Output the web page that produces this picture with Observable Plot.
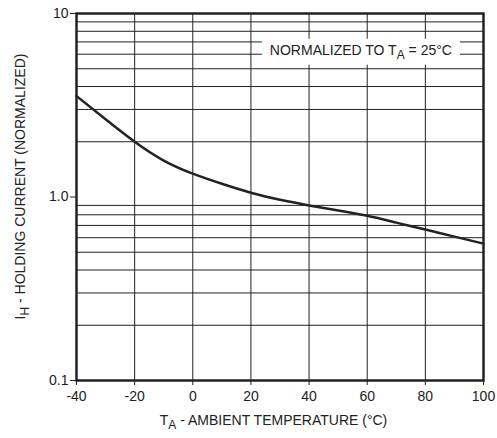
<!DOCTYPE html>
<html><head>
<meta charset="utf-8">
<script src="https://cdn.jsdelivr.net/npm/d3@7"></script>
<script src="https://cdn.jsdelivr.net/npm/@observablehq/plot@0.6"></script>
<style>
body{margin:0;background:#fff}
#chart svg{font-family:"Liberation Sans",Arial,sans-serif;}
</style>
</head><body><div id="chart"></div>
<script>
const temps = [-40,-30,-20,-10,0,10,20,30,40,50,60,70,80,90,100];
const current = [3.55,2.65,2.0,1.58,1.34,1.18,1.055,0.965,0.90,0.845,0.79,0.725,0.665,0.608,0.557];
const xTicks = [-40,-20,0,20,40,60,80,100];
const xTickLabels = ["-40","-20","0","20","40","60","80","100"];
const xGrid = [-20,0,20,40,60,80];
const yTicks = [0.1,1,10];
const yTickLabels = ["0.1","1.0","10"];
const yGrid = [0.2,0.3,0.4,0.5,0.6,0.7,0.8,0.9,2,3,4,5,6,7,8,9];
const note = {x: 58, y: 6.3, parts: ["NORMALIZED TO T", "A", " = 25°C"]};
const xLabelParts = ["T", "A", " - AMBIENT TEMPERATURE (°C)"];
const yLabelParts = ["I", "H", " - HOLDING CURRENT (NORMALIZED)"];

const data = temps.map((t,i)=>({t, v: current[i]}));

const plot = Plot.plot({
  width: 497, height: 438,
  marginLeft: 76, marginRight: 14, marginTop: 13, marginBottom: 58,
  style: {fontSize: "14px", fontFamily: "Liberation Sans, Arial, sans-serif", color: "#222", background: "#fff"},
  x: {domain: [-40,100], label: null},
  y: {type: "log", domain: [0.1,10], label: null},
  marks: [
    Plot.ruleY(yGrid, {stroke: "#222", strokeWidth: 1}),
    Plot.ruleX(xGrid, {stroke: "#222", strokeWidth: 1}),
    Plot.line(data, {x: "t", y: "v", stroke: "#222", strokeWidth: 2.5, curve: "natural"}),
    Plot.frame({stroke: "#222", strokeWidth: 2.5}),
    Plot.axisX({ticks: xTicks, tickFormat: d => xTickLabels[xTicks.indexOf(d)], tickSize: 5, tickPadding: 6, label: null, fill: "#222"}),
    Plot.axisY({ticks: yTicks, tickFormat: d => yTickLabels[yTicks.indexOf(d)], tickSize: 6, tickPadding: 2, label: null, fill: "#222"})
  ]
});
document.getElementById("chart").appendChild(plot);

const svg = d3.select(plot);
const sx = plot.scale("x"), sy = plot.scale("y");

function addParts(sel, parts){
  sel.append("tspan").text(parts[0]);
  sel.append("tspan").attr("dy", 4).attr("font-size", 12).text(parts[1]);
  sel.append("tspan").attr("dy", -4).text(parts[2]);
}

// annotation
const g = svg.append("g");
const nt = g.append("text")
  .attr("x", sx.apply(note.x)).attr("y", sy.apply(note.y))
  .attr("text-anchor", "middle").attr("dy", "0.35em")
  .attr("fill", "#222").attr("font-size", 14);
addParts(nt, note.parts);
const bb = nt.node().getBBox();
g.insert("rect", "text")
  .attr("x", bb.x - 8).attr("y", bb.y - 3)
  .attr("width", bb.width + 16).attr("height", bb.height + 6)
  .attr("fill", "#fff");

// x label
const xl = svg.append("text")
  .attr("x", (sx.apply(-40)+sx.apply(100))/2 - 6).attr("y", 425)
  .attr("text-anchor", "middle").attr("fill", "#222").attr("font-size", 14);
addParts(xl, xLabelParts);

// y label
const yl = svg.append("text")
  .attr("transform", `translate(25,${(sy.apply(0.1)+sy.apply(10))/2 - 10}) rotate(-90)`)
  .attr("text-anchor", "middle").attr("fill", "#222").attr("font-size", 14);
addParts(yl, yLabelParts);
</script>
</body></html>
